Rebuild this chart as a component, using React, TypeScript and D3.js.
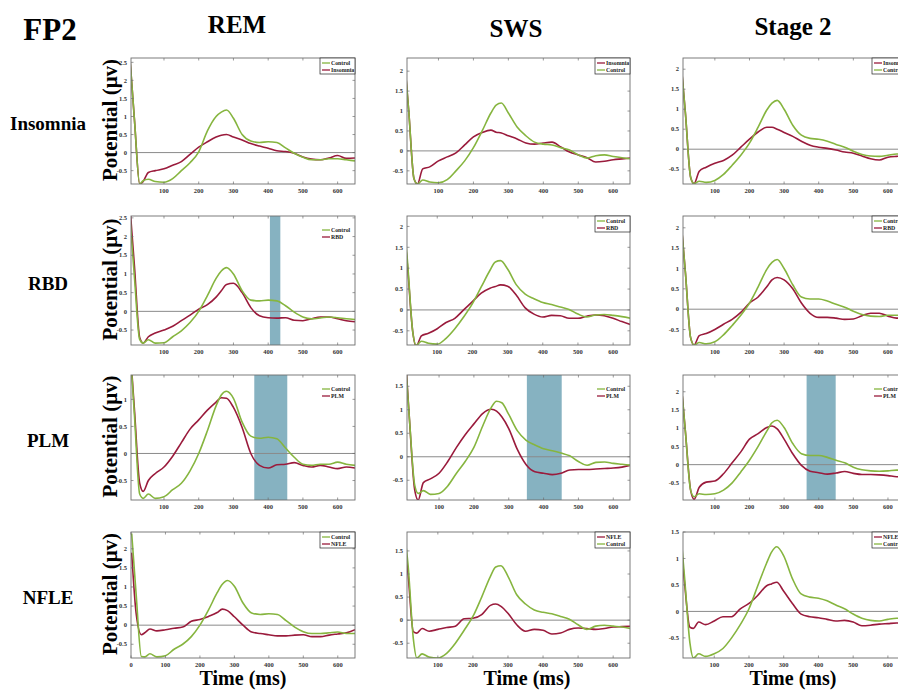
import React from 'react';
import * as d3 from 'd3';

// ---------- DATA ----------
const groups = ['Insomnia', 'RBD', 'PLM', 'NFLE'];
const stages = ['REM', 'SWS', 'Stage 2'];
const timeMs = [2, 15, 30, 40, 55, 75, 100, 125, 150, 175, 200, 225, 250, 265, 280, 300, 325, 350, 375, 400, 425, 450, 475, 500, 525, 550, 575, 600, 625, 650];
const xTickValues = [0, 100, 200, 300, 400, 500, 600];
const yTickValues = [-0.5, 0, 0.5, 1, 1.5, 2, 2.5];

// Insomnia row
const insomniaRemControl = [2.6, 0.9, -0.87, -0.78, -0.74, -0.8, -0.82, -0.72, -0.5, -0.28, 0.02, 0.6, 1.0, 1.12, 1.18, 0.95, 0.5, 0.32, 0.28, 0.3, 0.28, 0.13, -0.02, -0.13, -0.2, -0.2, -0.17, -0.17, -0.2, -0.23];
const insomniaRemPatient = [2.6, 0.9, -0.87, -0.8, -0.55, -0.5, -0.45, -0.35, -0.25, -0.05, 0.15, 0.3, 0.43, 0.48, 0.5, 0.43, 0.35, 0.25, 0.18, 0.12, 0.05, 0.03, -0.02, -0.12, -0.18, -0.2, -0.15, -0.08, -0.16, -0.15];
const insomniaSwsControl = [2.4, 1.0, -0.7, -0.83, -0.73, -0.78, -0.8, -0.72, -0.5, -0.25, 0.08, 0.5, 0.95, 1.15, 1.2, 0.95, 0.6, 0.38, 0.22, 0.17, 0.15, 0.08, 0.02, -0.1, -0.18, -0.12, -0.1, -0.14, -0.17, -0.2];
const insomniaSwsPatient = [2.4, 1.0, -0.7, -0.83, -0.45, -0.4, -0.25, -0.15, -0.05, 0.15, 0.35, 0.46, 0.52, 0.47, 0.45, 0.38, 0.3, 0.2, 0.17, 0.2, 0.22, 0.1, -0.03, -0.1, -0.17, -0.28, -0.26, -0.22, -0.2, -0.18];
const insomniaSt2Control = [2.2, 0.9, -0.7, -0.86, -0.8, -0.83, -0.78, -0.63, -0.4, -0.15, 0.15, 0.55, 0.98, 1.15, 1.22, 1.0, 0.6, 0.35, 0.27, 0.25, 0.2, 0.12, 0.05, -0.05, -0.13, -0.17, -0.18, -0.15, -0.12, -0.12];
const insomniaSt2Patient = [2.2, 0.9, -0.7, -0.86, -0.55, -0.45, -0.35, -0.28, -0.15, 0.05, 0.25, 0.43, 0.55, 0.55, 0.5, 0.42, 0.32, 0.2, 0.1, 0.05, 0.02, -0.02, -0.07, -0.1, -0.17, -0.24, -0.27, -0.2, -0.18, -0.17];

// RBD row
const rbdRemControl = [2.5, 0.9, -0.75, -0.85, -0.76, -0.85, -0.84, -0.68, -0.52, -0.3, 0.0, 0.42, 0.88, 1.08, 1.17, 1.0, 0.55, 0.3, 0.28, 0.3, 0.28, 0.15, -0.02, -0.15, -0.2, -0.18, -0.15, -0.17, -0.2, -0.22];
const rbdRemPatient = [2.8, 1.2, -0.7, -0.85, -0.68, -0.58, -0.5, -0.4, -0.25, -0.1, 0.06, 0.18, 0.38, 0.55, 0.72, 0.75, 0.5, 0.1, -0.12, -0.17, -0.18, -0.17, -0.24, -0.25, -0.2, -0.15, -0.15, -0.2, -0.25, -0.28];
const rbdSwsControl = [2.3, 1.2, -0.5, -0.85, -0.75, -0.8, -0.82, -0.68, -0.45, -0.17, 0.15, 0.55, 0.95, 1.15, 1.18, 0.98, 0.6, 0.38, 0.27, 0.18, 0.13, 0.07, 0.01, -0.1, -0.17, -0.12, -0.11, -0.13, -0.16, -0.2];
const rbdSwsPatient = [2.2, 1.1, -0.5, -0.87, -0.62, -0.56, -0.45, -0.3, -0.2, 0.0, 0.2, 0.4, 0.52, 0.56, 0.6, 0.57, 0.35, 0.05, -0.1, -0.17, -0.13, -0.14, -0.2, -0.2, -0.15, -0.12, -0.14, -0.2, -0.28, -0.35];
const rbdSt2Control = [2.2, 0.9, -0.7, -0.88, -0.82, -0.85, -0.8, -0.63, -0.4, -0.15, 0.15, 0.55, 0.98, 1.15, 1.22, 1.0, 0.6, 0.3, 0.25, 0.25, 0.2, 0.12, 0.05, -0.05, -0.13, -0.17, -0.18, -0.15, -0.15, -0.15];
const rbdSt2Patient = [2.2, 0.9, -0.7, -0.88, -0.65, -0.6, -0.5, -0.37, -0.25, -0.08, 0.15, 0.3, 0.55, 0.72, 0.78, 0.72, 0.5, 0.15, -0.1, -0.2, -0.2, -0.22, -0.25, -0.24, -0.16, -0.1, -0.1, -0.17, -0.22, -0.22];

// PLM row
const plmRemControl = [2.0, 0.7, -0.75, -0.83, -0.75, -0.83, -0.8, -0.67, -0.55, -0.32, 0.0, 0.42, 0.88, 1.08, 1.15, 1.02, 0.58, 0.32, 0.28, 0.3, 0.27, 0.1, -0.07, -0.2, -0.22, -0.2, -0.2, -0.16, -0.2, -0.22];
const plmRemPatient = [2.0, 0.8, -0.55, -0.7, -0.5, -0.37, -0.25, -0.05, 0.2, 0.45, 0.62, 0.8, 0.95, 1.03, 1.02, 0.85, 0.48, 0.0, -0.22, -0.27, -0.21, -0.2, -0.17, -0.22, -0.25, -0.22, -0.25, -0.28, -0.25, -0.27];
const plmSwsControl = [2.2, 0.8, -0.6, -0.78, -0.72, -0.8, -0.78, -0.62, -0.35, -0.1, 0.2, 0.65, 1.05, 1.18, 1.15, 0.9, 0.55, 0.35, 0.25, 0.17, 0.13, 0.08, 0.02, -0.1, -0.18, -0.12, -0.11, -0.14, -0.16, -0.18];
const plmSwsPatient = [2.3, 0.8, -0.7, -0.92, -0.55, -0.47, -0.35, -0.1, 0.2, 0.47, 0.7, 0.92, 1.01, 0.97, 0.85, 0.6, 0.15, -0.17, -0.32, -0.35, -0.38, -0.35, -0.28, -0.27, -0.27, -0.26, -0.25, -0.24, -0.22, -0.18];
const plmSt2Control = [2.3, 0.9, -0.7, -0.88, -0.8, -0.82, -0.8, -0.7, -0.5, -0.2, 0.12, 0.5, 0.92, 1.15, 1.22, 1.02, 0.58, 0.3, 0.25, 0.25, 0.2, 0.12, 0.05, -0.07, -0.14, -0.17, -0.18, -0.17, -0.15, -0.15];
const plmSt2Patient = [2.3, 0.9, -0.7, -0.95, -0.62, -0.48, -0.45, -0.25, 0.05, 0.35, 0.7, 0.85, 1.02, 1.06, 0.98, 0.7, 0.3, -0.02, -0.18, -0.22, -0.26, -0.23, -0.19, -0.24, -0.27, -0.27, -0.28, -0.3, -0.33, -0.33];

// NFLE row
const nfleRemControl = [2.4, 0.8, -0.82, -0.83, -0.75, -0.83, -0.8, -0.63, -0.5, -0.3, 0.0, 0.4, 0.85, 1.07, 1.17, 1.02, 0.58, 0.32, 0.28, 0.3, 0.28, 0.12, -0.05, -0.17, -0.22, -0.22, -0.2, -0.18, -0.22, -0.22];
const nfleRemPatient = [1.9, 0.3, -0.25, -0.2, -0.1, -0.15, -0.12, -0.08, -0.05, 0.1, 0.15, 0.23, 0.33, 0.42, 0.38, 0.22, 0.0, -0.18, -0.22, -0.25, -0.28, -0.28, -0.26, -0.25, -0.3, -0.3, -0.26, -0.23, -0.2, -0.12];
const nfleSwsControl = [2.0, 1.2, -0.4, -0.82, -0.73, -0.8, -0.82, -0.72, -0.5, -0.22, 0.08, 0.5, 0.95, 1.15, 1.18, 0.95, 0.55, 0.35, 0.22, 0.17, 0.14, 0.08, 0.02, -0.1, -0.2, -0.13, -0.11, -0.13, -0.15, -0.18];
const nfleSwsPatient = [1.9, 1.0, -0.25, -0.28, -0.18, -0.24, -0.2, -0.16, -0.13, 0.03, 0.04, 0.12, 0.32, 0.35, 0.3, 0.15, -0.1, -0.24, -0.2, -0.22, -0.3, -0.28, -0.2, -0.17, -0.18, -0.2, -0.18, -0.15, -0.14, -0.13];
const nfleSt2Control = [1.6, 0.6, -0.6, -0.88, -0.8, -0.85, -0.8, -0.7, -0.5, -0.25, 0.05, 0.48, 0.9, 1.12, 1.22, 1.05, 0.62, 0.33, 0.27, 0.25, 0.2, 0.12, 0.05, -0.05, -0.13, -0.17, -0.18, -0.15, -0.13, -0.13];
const nfleSt2Patient = [1.5, 0.5, -0.3, -0.32, -0.2, -0.25, -0.18, -0.1, -0.1, 0.05, 0.15, 0.3, 0.48, 0.52, 0.55, 0.38, 0.15, -0.05, -0.1, -0.12, -0.15, -0.18, -0.17, -0.2, -0.27, -0.26, -0.24, -0.23, -0.22, -0.22];

// axis limits (µV) per row, per stage
const yLimitsInsomnia = [[-0.87, 2.62], [-0.83, 2.33], [-0.87, 2.28]];
const yLimitsRbd = [[-0.9, 2.55], [-0.84, 2.25], [-0.88, 2.29]];
const yLimitsPlm = [[-0.86, 1.45], [-0.92, 1.74], [-0.97, 2.46]];
const yLimitsNfle = [[-0.86, 2.44], [-0.82, 1.91], [-0.88, 1.5]];
const xStartMs = [[5, 10, 8], [5, 14, 8], [5, 8, 8], [0, 12, 10]];
const xEndMs = [650, 648, 655];

// significant intervals (ms), null = none
const bandsRbd = [[405, 435], null, null];
const bandsPlm = [[360, 455], [352, 452], [365, 449]];

// legend order: true = Control listed first
const controlFirst = [[true, false, false], [true, true, true], [true, true, true], [true, false, false]];
const legendBoxed = [[true, true, true], [false, true, true], [false, false, false], [true, true, true]];

// ---------- ASSEMBLY ----------
const controlSeries = [
  [insomniaRemControl, insomniaSwsControl, insomniaSt2Control],
  [rbdRemControl, rbdSwsControl, rbdSt2Control],
  [plmRemControl, plmSwsControl, plmSt2Control],
  [nfleRemControl, nfleSwsControl, nfleSt2Control],
];
const patientSeries = [
  [insomniaRemPatient, insomniaSwsPatient, insomniaSt2Patient],
  [rbdRemPatient, rbdSwsPatient, rbdSt2Patient],
  [plmRemPatient, plmSwsPatient, plmSt2Patient],
  [nfleRemPatient, nfleSwsPatient, nfleSt2Patient],
];
const yLimits = [yLimitsInsomnia, yLimitsRbd, yLimitsPlm, yLimitsNfle];
const bands = [[null, null, null], bandsRbd, bandsPlm, [null, null, null]];

// ---------- LAYOUT ----------
const colX = [[131, 355], [407, 630], [683, 907]];
const rowY = [[58, 184], [216, 345], [375, 500], [532, 658]];
const GREEN = '#86b53f';
const RED = '#9a1b3c';
const BAND = '#86b2c1';
const SERIF = '"Liberation Serif", "Times New Roman", serif';

function Panel({ r, c }: { r: number; c: number }) {
  const [x0, x1] = colX[c];
  const [y0, y1] = rowY[r];
  const xs = d3.scaleLinear().domain([xStartMs[r][c], xEndMs[c]]).range([x0, x1]);
  const [ymin, ymax] = yLimits[r][c];
  const ys = d3.scaleLinear().domain([ymin, ymax]).range([y1, y0]);
  const line = d3
    .line<number>()
    .x((_, i) => xs(timeMs[i]))
    .y((d) => ys(d))
    .curve(d3.curveMonotoneX);
  const clipId = `clip-${r}-${c}`;
  const band = bands[r][c];
  const xt = xTickValues.filter((t) => t >= xs.domain()[0] - 0.5 && t <= xs.domain()[1]);
  const yt = yTickValues.filter((t) => t >= ymin && t <= ymax);
  const patientName = groups[r];
  const entries = controlFirst[r][c]
    ? [{ n: 'Control', col: GREEN }, { n: patientName, col: RED }]
    : [{ n: patientName, col: RED }, { n: 'Control', col: GREEN }];
  const boxed = legendBoxed[r][c];
  const lgX = x1 - 35;
  const lgY = boxed ? y0 : y0 + 9;
  const frame = '#6e6e6e';
  return (
    <g>
      <defs>
        <clipPath id={clipId}>
          <rect x={x0} y={y0} width={x1 - x0} height={y1 - y0} />
        </clipPath>
      </defs>
      <rect x={x0} y={y0} width={x1 - x0} height={y1 - y0} fill="#fff" />
      {band && (
        <rect
          x={xs(band[0])}
          y={y0}
          width={xs(band[1]) - xs(band[0])}
          height={y1 - y0}
          fill={BAND}
        />
      )}
      <line x1={x0} x2={x1} y1={ys(0)} y2={ys(0)} stroke="#8a8a8a" strokeWidth={1} />
      <g clipPath={`url(#${clipId})`}>
        <path d={line(patientSeries[r][c]) || ''} fill="none" stroke={RED} strokeWidth={1.6} />
        <path d={line(controlSeries[r][c]) || ''} fill="none" stroke={GREEN} strokeWidth={1.6} />
      </g>
      <rect x={x0} y={y0} width={x1 - x0} height={y1 - y0} fill="none" stroke={frame} strokeWidth={0.9} />
      {xt.map((t) => (
        <g key={'x' + t}>
          <line x1={xs(t)} x2={xs(t)} y1={y1} y2={y1 - 2.5} stroke={frame} strokeWidth={0.7} />
          <line x1={xs(t)} x2={xs(t)} y1={y0} y2={y0 + 2.5} stroke={frame} strokeWidth={0.7} />
          <text
            x={xs(t)}
            y={y1 + 9}
            textAnchor="middle"
            fontSize={6.5}
            fontWeight="bold"
            fontFamily={SERIF}
            fill="#333"
          >
            {t}
          </text>
        </g>
      ))}
      {yt.map((t) => (
        <g key={'y' + t}>
          <line x1={x0} x2={x0 + 2.5} y1={ys(t)} y2={ys(t)} stroke={frame} strokeWidth={0.7} />
          <line x1={x1} x2={x1 - 2.5} y1={ys(t)} y2={ys(t)} stroke={frame} strokeWidth={0.7} />
          <text
            x={x0 - 4}
            y={ys(t) + 2.2}
            textAnchor="end"
            fontSize={6.5}
            fontWeight="bold"
            fontFamily={SERIF}
            fill="#333"
          >
            {String(t)}
          </text>
        </g>
      ))}
      {boxed && (
        <rect x={lgX} y={lgY} width={35} height={16} fill="#fff" stroke="#222" strokeWidth={0.7} />
      )}
      {entries.map((e, i) => (
        <g key={e.n}>
          <line
            x1={lgX + 2}
            x2={lgX + 10}
            y1={lgY + 5 + i * 7}
            y2={lgY + 5 + i * 7}
            stroke={e.col}
            strokeWidth={1.3}
          />
          <text
            x={lgX + 11}
            y={lgY + 7 + i * 7}
            fontSize={5.8}
            fontWeight="bold"
            fontFamily={SERIF}
            fill="#222"
          >
            {e.n}
          </text>
        </g>
      ))}
    </g>
  );
}

export default function App() {
  const headerX = [237, 516, 793];
  const headerBase = [33, 37, 35];
  return (
    <svg
      width={898}
      height={691}
      style={{ position: 'absolute', left: 0, top: 0, display: 'block', background: '#fff' }}
    >
      <rect x={0} y={0} width={898} height={691} fill="#fff" />
      <text x={50} y={40} textAnchor="middle" fontSize={31} fontWeight="bold" fontFamily={SERIF}>
        FP2
      </text>
      {stages.map((s, i) => (
        <text
          key={s}
          x={headerX[i]}
          y={headerBase[i]}
          textAnchor="middle"
          fontSize={25}
          fontWeight="bold"
          fontFamily={SERIF}
        >
          {s}
        </text>
      ))}
      {groups.map((g, r) => {
        const cy = (rowY[r][0] + rowY[r][1]) / 2;
        return (
          <g key={g}>
            <text
              x={48}
              y={cy + 9}
              textAnchor="middle"
              fontSize={19}
              fontWeight="bold"
              fontFamily={SERIF}
            >
              {g}
            </text>
            <text
              transform={`translate(117,${cy - 1}) rotate(-90)`}
              textAnchor="middle"
              fontSize={21}
              fontWeight="bold"
              fontFamily={SERIF}
            >
              Potential (μv)
            </text>
          </g>
        );
      })}
      {groups.map((g, r) => stages.map((s, c) => <Panel key={g + s} r={r} c={c} />))}
      {[243, 527, 793].map((x) => (
        <text
          key={x}
          x={x}
          y={685}
          textAnchor="middle"
          fontSize={20}
          fontWeight="bold"
          fontFamily={SERIF}
        >
          Time (ms)
        </text>
      ))}
    </svg>
  );
}
